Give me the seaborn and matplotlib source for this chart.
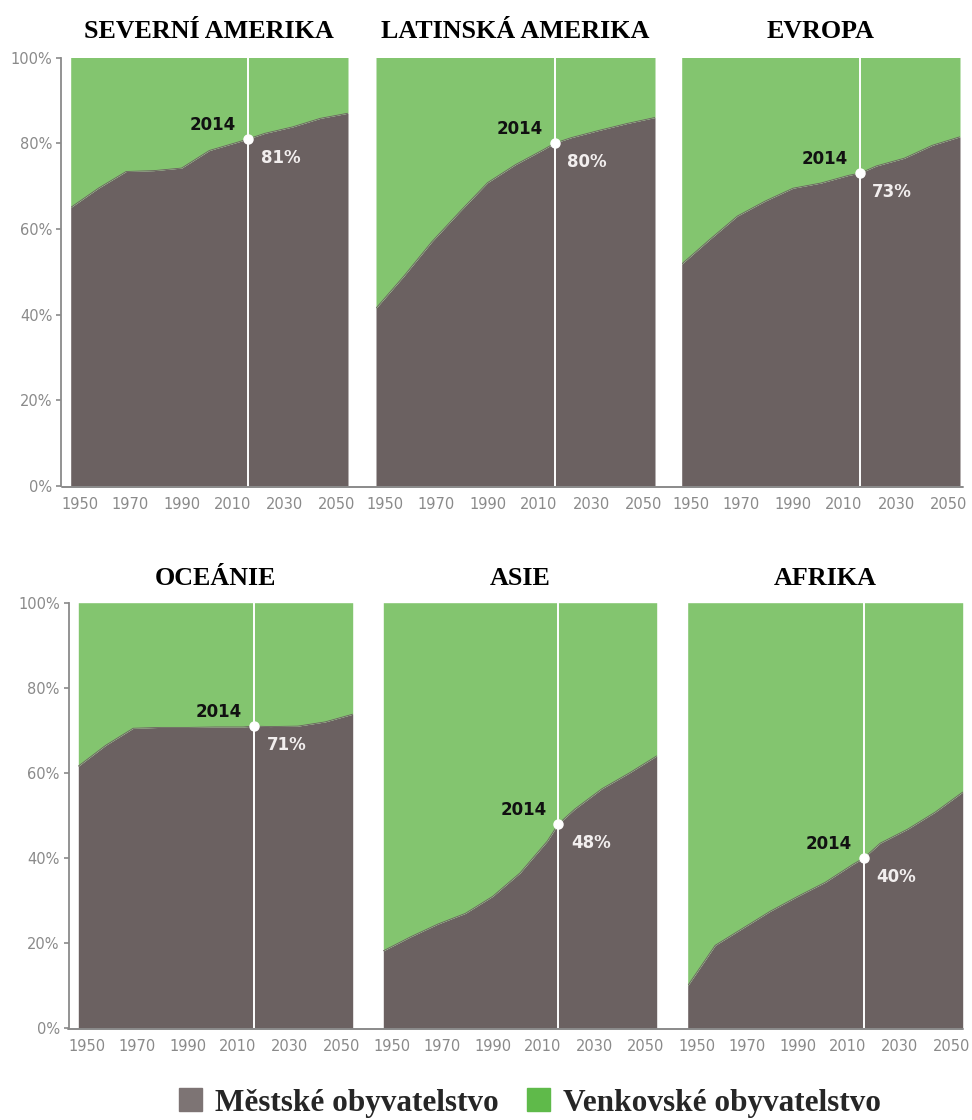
import matplotlib
matplotlib.use("Agg")
import matplotlib.pyplot as plt
import matplotlib.transforms as mtransforms
import seaborn as sns
import pandas as pd
from matplotlib.patches import Patch
from matplotlib.lines import Line2D

# Data (share of urban population, %)
years = [1950, 1960, 1970, 1980, 1990, 2000, 2010, 2014, 2020, 2030, 2040, 2050]
regions = ["SEVERNÍ AMERIKA", "LATINSKÁ AMERIKA", "EVROPA", "OCEÁNIE", "ASIE", "AFRIKA"]
north_america = [65.0, 69.5, 73.4, 73.6, 74.2, 78.3, 80.2, 81, 82.3, 83.8, 85.8, 87.0]
latin_america = [41.5, 49.0, 57.0, 64.0, 70.8, 75.0, 78.5, 80, 81.3, 83.0, 84.6, 86.0]
europe = [51.8, 57.5, 63.0, 66.5, 69.5, 70.7, 72.5, 73, 74.7, 76.5, 79.5, 81.5]
oceania = [61.6, 66.5, 70.5, 70.7, 70.7, 70.8, 70.8, 71, 70.9, 71.0, 72.0, 73.8]
asia = [18.2, 21.5, 24.5, 27.0, 31.0, 36.5, 44.0, 48, 51.5, 56.3, 60.0, 64.0]
africa = [10.0, 19.5, 23.5, 27.5, 31.0, 34.3, 38.5, 40, 43.5, 46.8, 50.8, 55.5]
series = [north_america, latin_america, europe, oceania, asia, africa]

x_ticks = [1950, 1970, 1990, 2010, 2030, 2050]
y_ticks = [0, 20, 40, 60, 80, 100]
y_labels = ["0%", "20%", "40%", "60%", "80%", "100%"]

urban_color = "#6b6161"
rural_color = "#83c56f"
tick_color = "#8a8a8a"

sns.set_style("white")
plt.rcParams["font.family"] = ["DejaVu Sans"]

fig = plt.figure(figsize=(9.72, 11.2), dpi=100)
W, H = 972, 1120

# axes boxes in pixels: (left, right, top, bottom)
boxes = [
    (70.7, 348, 57.5, 486), (376, 655, 57.5, 486), (681.7, 960, 57.5, 486),
    (78.3, 352.7, 602.7, 1028.3), (383.3, 656.7, 602.7, 1028.3), (687.7, 962.7, 602.7, 1028.3),
]
# year labels sit slightly inward from the panel edges
label_shift_px = [9, 4, 0, -5, -8, -11]

for i, (name, vals) in enumerate(zip(regions, series)):
    l, r, t, b = boxes[i]
    ax = fig.add_axes([l / W, 1 - b / H, (r - l) / W, (b - t) / H])
    df = pd.DataFrame({"year": years, "urban": vals})

    ax.fill_between(df["year"], 0, df["urban"], color=urban_color, lw=0)
    ax.fill_between(df["year"], df["urban"], 100, color=rural_color, lw=0)
    sns.lineplot(data=df, x="year", y="urban", color=urban_color, lw=0.6, ax=ax)

    # 2014 marker
    v = vals[years.index(2014)]
    ax.axvline(2014, color="white", lw=1.4, zorder=4)
    ax.plot([2014], [v], "o", color="white", ms=6.5, zorder=5)
    ax.annotate("2014", (2014, v), xytext=(-8.5, 3.5), textcoords="offset points",
                ha="right", va="bottom", fontsize=12, fontweight="bold", color="#111111")
    ax.annotate(f"{v:.0f}%", (2014, v), xytext=(9, -7), textcoords="offset points",
                ha="left", va="top", fontsize=12, fontweight="bold", color="#f2eeee")

    ax.set_xlim(1950, 2050)
    ax.set_ylim(0, 100)
    ax.set_xlabel("")
    ax.set_ylabel("")
    ax.set_title(name, fontfamily="Liberation Serif", fontweight="bold", fontsize=18.7,
                 color="black", pad=14 if i < 3 else 13)

    ax.set_xticks(x_ticks)
    ax.set_xticklabels([str(x) for x in x_ticks])
    ax.tick_params(axis="x", length=0, pad=8, labelsize=10.5, colors=tick_color)
    for lab, dx in zip(ax.get_xticklabels(), label_shift_px):
        lab.set_transform(lab.get_transform()
                          + mtransforms.ScaledTranslation(dx / 100, 0, fig.dpi_scale_trans))

    for s in ["top", "right", "bottom"]:
        ax.spines[s].set_visible(False)
    if i % 3 == 0:
        ax.spines["left"].set_position(("outward", 6.8))
        ax.spines["left"].set_color(tick_color)
        ax.spines["left"].set_linewidth(1.3)
        ax.set_yticks(y_ticks)
        ax.set_yticklabels(y_labels)
        ax.tick_params(axis="y", direction="out", length=3.5, width=1.2, pad=3,
                       labelsize=10.5, colors=tick_color, left=True)
    else:
        ax.spines["left"].set_visible(False)
        ax.set_yticks([])

# continuous baselines under each row
for x0, y0 in [(62, 487), (68, 1029)]:
    fig.add_artist(Line2D([x0 / W, 963 / W], [1 - y0 / H, 1 - y0 / H],
                          color=tick_color, lw=1.4))

handles = [Patch(color="#7d7474", label="Městské obyvatelstvo"),
           Patch(color="#5fba4a", label="Venkovské obyvatelstvo")]
fig.legend(handles=handles, loc="center", bbox_to_anchor=(0.545, 1 - 1103 / H), ncol=2,
           frameon=False, prop=dict(family="Liberation Serif", weight="bold", size=22.5),
           handlelength=0.75, handleheight=0.75, handletextpad=0.4, columnspacing=0.9)

fig.savefig("out.png", dpi=100)
